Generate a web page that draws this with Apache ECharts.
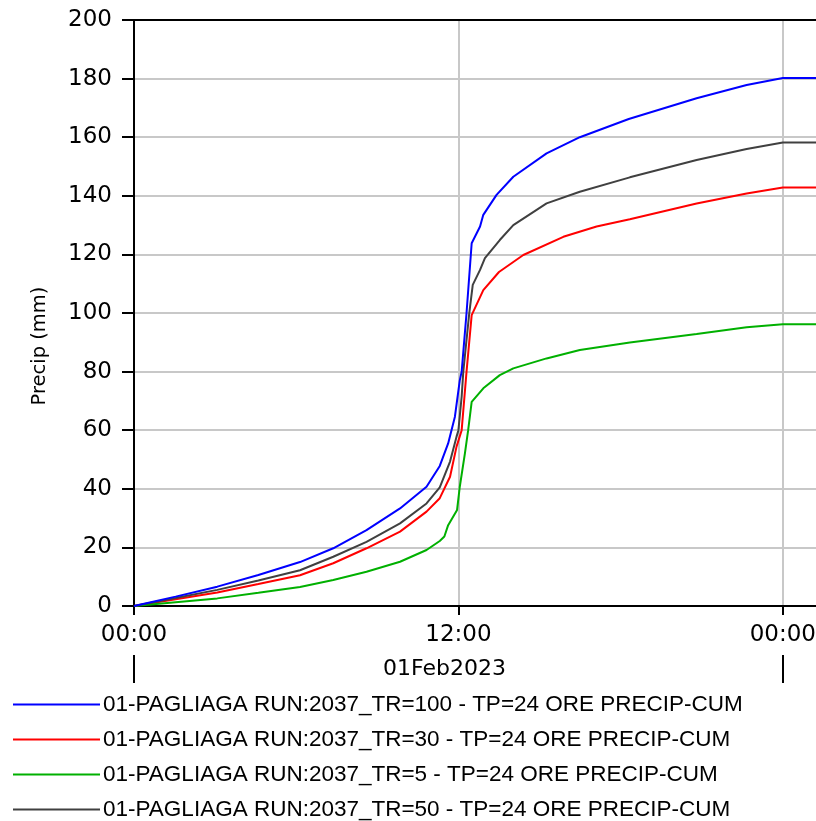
<!DOCTYPE html>
<html>
<head>
<meta charset="utf-8">
<script src="https://cdn.jsdelivr.net/npm/echarts@6/dist/echarts.min.js"></script>
<style>
html,body{margin:0;padding:0;background:#fff;overflow:hidden;}
#chart{width:816px;height:821px;}
</style>
</head>
<body>
<div id="chart"></div>
<script>
// Hours since 01Feb2023 00:00
const seriesNames = [
  '01-PAGLIAGA RUN:2037_TR=100 - TP=24 ORE PRECIP-CUM',
  '01-PAGLIAGA RUN:2037_TR=30 - TP=24 ORE PRECIP-CUM',
  '01-PAGLIAGA RUN:2037_TR=5 - TP=24 ORE PRECIP-CUM',
  '01-PAGLIAGA RUN:2037_TR=50 - TP=24 ORE PRECIP-CUM'
];
const seriesColors = ['#0000ff', '#ff0000', '#00b000', '#404040'];

const tTR100 = [0, 1.54, 3.08, 4.6, 6.14, 7.37, 8.6, 9.84, 10.82, 11.31, 11.62, 11.87, 12.05, 12.12, 12.3, 12.49, 12.8, 12.92, 13.41, 14.03, 15.26, 16.49, 18.3, 20.81, 22.66, 24.0, 25.3];
const vTR100 = [0, 3.2, 6.6, 10.6, 15.0, 19.7, 25.9, 33.3, 40.7, 47.8, 55.5, 64.6, 77, 80, 100, 123.8, 129.5, 133.5, 140.3, 146.5, 154.5, 160, 166.2, 173.3, 177.8, 180.2, 180.2];

const tTR30 = [0, 1.54, 3.08, 4.6, 6.14, 7.37, 8.6, 9.84, 10.82, 11.31, 11.69, 11.93, 12.12, 12.3, 12.49, 12.92, 13.5, 14.4, 15.88, 17.11, 18.34, 20.81, 22.66, 24.0, 25.3];
const vTR30 = [0, 2.3, 4.6, 7.5, 10.5, 14.6, 19.7, 25.4, 32.2, 36.8, 44.1, 54.4, 60, 80, 99.3, 107.8, 114, 119.8, 126.0, 129.5, 132.0, 137.4, 140.8, 142.8, 142.8];

const tTR5 = [0, 1.54, 3.08, 4.6, 6.14, 7.37, 8.6, 9.84, 10.82, 11.31, 11.48, 11.62, 11.95, 12.05, 12.24, 12.36, 12.49, 12.92, 13.53, 14.03, 15.26, 16.49, 18.34, 20.81, 22.66, 24.0, 25.3];
const vTR5 = [0, 1.3, 2.6, 4.5, 6.5, 8.9, 11.7, 15.1, 19.1, 22.2, 23.7, 27.6, 32.8, 40.7, 52.1, 60, 69.7, 74.3, 78.8, 81.1, 84.5, 87.4, 89.9, 92.8, 95.1, 96.2, 96.2];

const tTR50 = [0, 1.54, 3.08, 4.6, 6.14, 7.37, 8.6, 9.84, 10.82, 11.31, 11.69, 11.93, 12.0, 12.12, 12.18, 12.4, 12.53, 12.8, 12.98, 13.53, 14.03, 15.26, 16.49, 18.34, 20.81, 22.66, 24.0, 25.3];
const vTR50 = [0, 2.7, 5.5, 8.7, 12.2, 16.8, 21.9, 28.2, 35.0, 40.5, 49.3, 57.8, 60, 71.5, 80, 99.9, 109.6, 114.7, 118.7, 124.9, 130.0, 137.4, 141.4, 146.3, 152.2, 156.0, 158.2, 158.2];

const xTickValues = [0, 12, 24];
const dateLabel = '01Feb2023';
const yAxisName = 'Precip (mm)';

function zip(t, v) { return t.map((x, i) => [x, v[i]]); }
const allT = [tTR100, tTR30, tTR5, tTR50];
const allV = [vTR100, vTR30, vTR5, vTR50];

function hhmm(h) {
  const hh = Math.floor(h) % 24;
  const mm = Math.round((h - Math.floor(h)) * 60);
  return String(hh).padStart(2, '0') + ':' + String(mm).padStart(2, '0');
}

const chart = echarts.init(document.getElementById('chart'), null, {renderer: 'canvas'});
const axisFont = 'DejaVu Sans';
const option = {
  animation: false,
  backgroundColor: '#ffffff',
  grid: {left: 134, top: 20, width: 684, bottom: 215, containLabel: false, outerBoundsMode: 'none'},
  legend: {
    orient: 'vertical',
    left: 13,
    top: 693,
    padding: 0,
    height: 128,
    icon: 'rect',
    itemWidth: 87,
    itemHeight: 2,
    itemGap: 12,
    textStyle: {fontFamily: 'Liberation Sans', fontSize: 22.5, color: '#000', lineHeight: 22, padding: [0, 0, 0, -2]},
    data: seriesNames
  },
  xAxis: [
    {
      type: 'value', min: 0, max: 25.3, interval: 12,
      axisLine: {show: true, lineStyle: {color: '#000', width: 2}},
      axisTick: {show: true, length: 9, customValues: xTickValues, lineStyle: {color: '#000', width: 2}},
      axisLabel: {customValues: xTickValues, formatter: v => hhmm(v), fontFamily: axisFont, fontSize: 23, color: '#000', margin: 18},
      splitLine: {show: true, lineStyle: {color: '#c8c8c8', width: 2}}
    },
    {
      type: 'value', min: 0, max: 25.3, interval: 12, position: 'bottom', offset: 49,
      axisLine: {show: false},
      axisTick: {show: true, length: 28, customValues: [0, 24], lineStyle: {color: '#000', width: 2}},
      axisLabel: {customValues: [12], formatter: () => dateLabel, fontFamily: axisFont, fontSize: 22, color: '#000', margin: 3, padding: [0, 28, 0, 0]},
      splitLine: {show: false}
    },
    {
      type: 'value', min: 0, max: 25.3, position: 'top',
      axisLine: {show: true, lineStyle: {color: '#000', width: 2}},
      axisTick: {show: false}, axisLabel: {show: false}, splitLine: {show: false}
    }
  ],
  yAxis: {
    type: 'value', min: 0, max: 200, interval: 20,
    name: yAxisName, nameLocation: 'middle', nameGap: 84,
    nameTextStyle: {fontFamily: axisFont, fontSize: 19.5, color: '#000', padding: [0, 66, 0, 0]},
    axisLine: {show: true, lineStyle: {color: '#000', width: 2}},
    axisTick: {show: true, length: 12, lineStyle: {color: '#000', width: 2}},
    axisLabel: {fontFamily: axisFont, fontSize: 23, color: '#000', margin: 22},
    splitLine: {show: true, lineStyle: {color: '#c8c8c8', width: 2}}
  },
  series: seriesNames.map((name, i) => ({
    name: name,
    type: 'line',
    xAxisIndex: 0,
    data: zip(allT[i], allV[i]),
    showSymbol: false,
    symbol: 'none',
    color: seriesColors[i],
    lineStyle: {color: seriesColors[i], width: 2},
    z: i === 0 ? 5 : 4
  }))
};
chart.setOption(option);
</script>
</body>
</html>
